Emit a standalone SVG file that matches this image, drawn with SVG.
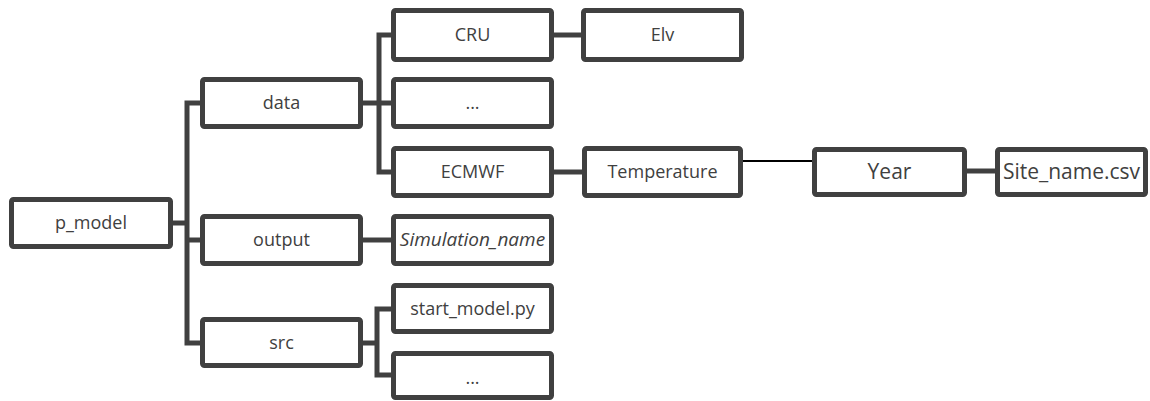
<svg xmlns="http://www.w3.org/2000/svg" width="1150" height="401" viewBox="0 0 1150 401">
<style>
.box{fill:#fff;stroke:#404040;stroke-width:5;}
.t{font-family:"Open Sans","Noto Sans",sans-serif;font-size:18px;fill:#404040;text-anchor:middle;dominant-baseline:central;}
.big{font-size:21px;}
.it{font-style:italic;font-size:19px;}
.c{fill:none;stroke:#404040;stroke-width:5;stroke-linejoin:miter;}
.thin{fill:none;stroke:#000;stroke-width:2;}
</style>
<rect width="1150" height="401" fill="#fff"/>
<g id="connectors">
<path class="c" d="M173,223 H187 M200,103 H187 V343 H200 M187,240 H200"/>
<path class="c" d="M363,103 H379 M393,35 H379 V172 H393 M379,103 H393"/>
<path class="c" d="M554,35 H581"/>
<path class="c" d="M554,172 H582"/>
<path class="thin" d="M743,161 H813"/>
<path class="c" d="M967,171 H995"/>
<path class="c" d="M363,240 H391"/>
<path class="c" d="M363,343 H377 M393,309 H377 V375 H393"/>
</g>
<g id="p_model"><rect class="box" x="11.5" y="199.5" width="159" height="47" rx="2"/><text class="t" x="91" y="222">p_model</text></g>
<g id="data"><rect class="box" x="202.5" y="79.5" width="158" height="47" rx="2"/><text class="t" x="281.5" y="102">data</text></g>
<g id="output"><rect class="box" x="202.5" y="216.5" width="158" height="47" rx="2"/><text class="t" x="281.5" y="239">output</text></g>
<g id="src"><rect class="box" x="202.5" y="319.5" width="158" height="46" rx="2"/><text class="t" x="281.5" y="342">src</text></g>
<g id="cru"><rect class="box" x="393.5" y="10.5" width="158" height="49" rx="2"/><text class="t" x="472.5" y="34">CRU</text></g>
<g id="dots1"><rect class="box" x="393.5" y="79.5" width="158" height="47" rx="2"/><text class="t" x="472.5" y="102">...</text></g>
<g id="ecmwf"><rect class="box" x="393.5" y="148.5" width="158" height="47" rx="2"/><text class="t" x="472.5" y="171">ECMWF</text></g>
<g id="elv"><rect class="box" x="583.5" y="10.5" width="158" height="49" rx="2"/><text class="t" x="662.5" y="34">Elv</text></g>
<g id="temperature"><rect class="box" x="584.5" y="148.5" width="156" height="47" rx="2"/><text class="t" x="662.5" y="171">Temperature</text></g>
<g id="year"><rect class="box" x="814.5" y="149.5" width="150" height="45" rx="2"/><text class="t big" x="889.5" y="171">Year</text></g>
<g id="site"><rect class="box" x="997.5" y="149.5" width="148" height="45" rx="2"/><text class="t big" x="1071.5" y="171">Site_name.csv</text></g>
<g id="simulation"><rect class="box" x="393.5" y="216.5" width="158" height="47" rx="2"/><text class="t it" x="472.5" y="239">Simulation_name</text></g>
<g id="start_model"><rect class="box" x="393.5" y="285.5" width="158" height="46" rx="2"/><text class="t" x="472.5" y="308">start_model.py</text></g>
<g id="dots2"><rect class="box" x="393.5" y="353.5" width="158" height="44" rx="2"/><text class="t" x="472.5" y="377">...</text></g>
</svg>
